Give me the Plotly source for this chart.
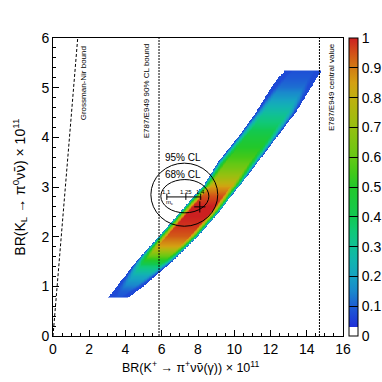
import numpy as np
import plotly.graph_objects as go

# band edges: x of left / right edge at each y
BAND_Y = [0.765, 1.0, 1.5, 2.0, 2.5, 3.0, 3.5, 4.0, 4.5, 5.0, 5.35]
BAND_LEFT = [3.03, 3.53, 4.60, 5.85, 7.05, 8.25, 9.10, 10.2, 11.2, 12.05, 12.78]
BAND_RIGHT = [4.13, 5.0, 6.6, 8.0, 9.2, 10.25, 11.3, 12.35, 13.4, 14.25, 14.82]

# probability along the band (row level)
PROF_Y = [0.765, 0.9, 1.0, 1.2, 1.4, 1.5, 1.6, 1.7, 1.8, 2.0, 2.2, 2.4, 2.6, 2.8, 3.0,
          3.2, 3.4, 3.6, 3.8, 4.0, 4.2, 4.4, 4.6, 4.8, 5.0, 5.2, 5.35]
PROF_V = [0.08, 0.10, 0.14, 0.22, 0.36, 0.48, 0.60, 0.72, 0.85, 0.94, 0.98, 1.0, 1.0,
          0.95, 0.85, 0.72, 0.62, 0.55, 0.50, 0.45, 0.38, 0.32, 0.25, 0.18, 0.12, 0.09, 0.08]

# fall-off towards the band edge (distance in x units -> factor)
EDGE_D = [0.0, 0.08, 0.18, 0.30, 0.45]
EDGE_F = [0.10, 0.30, 0.55, 0.80, 1.0]

# reference lines
GN_SLOPE = 4.4          # Grossman-Nir: BR(KL) < 4.4 BR(K+)
E949_BOUND = 5.85
E949_CENTRAL = 14.7

# confidence ellipses (x0, x1, y0, y1)
CL95 = [5.40, 9.09, 2.21, 3.48]
CL68 = [5.95, 8.60, 2.48, 3.15]

# m_c scan line
MC_X = [6.28, 7.33, 8.15]
MC_LABELS = ["1.1", "1.25", "1.4"]
MC_Y = 2.80
SM_POINT = (8.1, 2.6)

CB_TICKS = [0, 0.1, 0.2, 0.3, 0.4, 0.5, 0.6, 0.7, 0.8, 0.9, 1]
CB_TEXT = ["0", "0.1", "0.2", "0.3", "0.4", "0.5", "0.6", "0.7", "0.8", "0.9", "1"]

FONT = "Liberation Sans, Arial, sans-serif"
NUBAR = '<span style="font-family:DejaVu Sans">\u03bd\u0304</span>'

colorscale = [
    [0.0, "#ffffff"], [0.03, "#ffffff"],
    [0.0301, "#1f2fd8"], [0.1, "#1e5ed4"], [0.15, "#1a88cc"],
    [0.2, "#16a2c2"], [0.25, "#12b4b0"], [0.3, "#10c096"],
    [0.35, "#10c878"], [0.4, "#12c852"], [0.5, "#22c82a"],
    [0.55, "#44c818"], [0.6, "#66c814"], [0.7, "#96c010"],
    [0.8, "#c0b010"], [0.85, "#d4a012"], [0.9, "#d27c14"],
    [0.95, "#d25018"], [1.0, "#cc2020"],
]


def build_band():
    xc = np.arange(0.02, 16, 0.04)
    yc = np.arange(BAND_Y[0] + 0.01, BAND_Y[-1], 0.02)
    z = np.full((len(yc), len(xc)), np.nan)
    for i, y in enumerate(yc):
        xl = np.interp(y, BAND_Y, BAND_LEFT)
        xr = np.interp(y, BAND_Y, BAND_RIGHT)
        v = np.interp(y, PROF_Y, PROF_V)
        inside = (xc >= xl) & (xc <= xr)
        d = np.minimum(xc - xl, xr - xc)
        f = np.interp(d, EDGE_D, EDGE_F)
        z[i, inside] = np.maximum(v * f[inside], 0.07)
    return xc, yc, z


xc, yc, z = build_band()

fig = go.Figure()
fig.add_trace(go.Heatmap(
    x=xc, y=yc, z=z, zmin=0, zmax=1, colorscale=colorscale,
    hoverongaps=False, zsmooth=False,
    colorbar=dict(
        x=1.02, xanchor="left", xpad=0, y=0.5, yanchor="middle",
        len=1, lenmode="fraction", thickness=9, ypad=0,
        outlinecolor="black", outlinewidth=1,
        tickvals=CB_TICKS, ticktext=CB_TEXT,
        ticks="inside", ticklen=9, tickcolor="black", tickwidth=1,
        tickfont=dict(family=FONT, size=14, color="black"),
    ),
))

# Grossman-Nir bound
fig.add_trace(go.Scatter(x=[0, 6 / GN_SLOPE], y=[0, 6], mode="lines",
                         line=dict(color="black", width=1, dash="3px,2px"),
                         showlegend=False, hoverinfo="skip"))
# E787/E949 lines
for xv in [E949_BOUND, E949_CENTRAL]:
    fig.add_trace(go.Scatter(x=[xv, xv], y=[0, 6], mode="lines",
                             line=dict(color="black", width=1, dash="2px,1px"),
                             showlegend=False, hoverinfo="skip"))

# ellipses
for e in [CL95, CL68]:
    fig.add_shape(type="circle", xref="x", yref="y", x0=e[0], x1=e[1], y0=e[2], y1=e[3],
                  line=dict(color="black", width=1))

# m_c line with ticks
fig.add_trace(go.Scatter(x=[MC_X[0], MC_X[-1]], y=[MC_Y, MC_Y], mode="lines",
                         line=dict(color="black", width=1),
                         showlegend=False, hoverinfo="skip"))
for xv in MC_X:
    fig.add_trace(go.Scatter(x=[xv, xv], y=[MC_Y - 0.06, MC_Y + 0.06], mode="lines",
                             line=dict(color="black", width=1),
                             showlegend=False, hoverinfo="skip"))
fig.add_trace(go.Scatter(x=[SM_POINT[0]], y=[SM_POINT[1]], mode="markers",
                         marker=dict(symbol="cross-thin", size=8,
                                     line=dict(color="black", width=1)),
                         showlegend=False, hoverinfo="skip"))

ann = []
for xv, t in zip(MC_X, MC_LABELS):
    ann.append(dict(x=xv, y=MC_Y + 0.1, text=t, showarrow=False,
                    font=dict(family=FONT, size=6, color="black")))
ann.append(dict(x=6.45, y=MC_Y - 0.12, text="m<sub>c</sub>", showarrow=False,
                font=dict(family=FONT, size=6, color="black")))
ann.append(dict(x=7.16, y=CL95[3], yanchor="bottom", text="95% CL", showarrow=False,
                yshift=-2, font=dict(family=FONT, size=10, color="black")))
ann.append(dict(x=7.16, y=CL68[3], yanchor="bottom", text="68% CL", showarrow=False,
                yshift=-2, font=dict(family=FONT, size=10, color="black")))
ann.append(dict(x=1.66, y=5.09, text="Grossman-Nir bound", textangle=-90, showarrow=False,
                font=dict(family=FONT, size=8, color="black")))
ann.append(dict(x=5.14, y=4.93, text="E787/E949 90% CL bound", textangle=-90, showarrow=False,
                font=dict(family=FONT, size=8, color="black")))
ann.append(dict(x=15.36, y=5.02, text="E787/E949 central value", textangle=-90, showarrow=False,
                font=dict(family=FONT, size=8, color="black")))
# axis titles
ann.append(dict(x=0.476, y=-0.105, xref="paper", yref="paper", yanchor="middle",
                text="BR(K<sup>+</sup> \u2192 \u03c0<sup>+</sup>\u03bd" + NUBAR
                     + "(\u03b3)) \u00d7 10<sup>11</sup>",
                showarrow=False, font=dict(family=FONT, size=12.5, color="black")))
ann.append(dict(x=-0.115, y=0.5, xref="paper", yref="paper", xanchor="center",
                text="BR(K<sub>L</sub> \u2192 \u03c0<sup>0</sup>\u03bd" + NUBAR
                     + ") \u00d7 10<sup>11</sup>",
                textangle=-90, showarrow=False,
                font=dict(family=FONT, size=14, color="black")))

fig.update_layout(
    width=382, height=382,
    margin=dict(l=53, r=39, t=38, b=46, autoexpand=False),
    plot_bgcolor="white", paper_bgcolor="white",
    font=dict(family=FONT, size=14, color="black"),
    annotations=ann,
    showlegend=False,
)
fig.update_xaxes(range=[0, 16], tickvals=list(range(0, 17, 2)), showgrid=False, zeroline=False,
                 ticks="inside", ticklen=6, tickcolor="black", showline=True, linecolor="black",
                 linewidth=1, mirror=True,
                 minor=dict(dtick=0.5, ticks="inside", ticklen=3, tickcolor="black"),
                 tickfont=dict(family=FONT, size=14))
fig.update_yaxes(range=[0, 6], tickvals=list(range(0, 7)), showgrid=False, zeroline=False,
                 ticks="inside", ticklen=6, tickcolor="black", showline=True, linecolor="black",
                 linewidth=1, mirror=True,
                 minor=dict(dtick=0.2, ticks="inside", ticklen=3, tickcolor="black"),
                 tickfont=dict(family=FONT, size=14))

fig.write_html("out.html", config={"displayModeBar": False},
               post_script="document.body.style.margin='0';")
